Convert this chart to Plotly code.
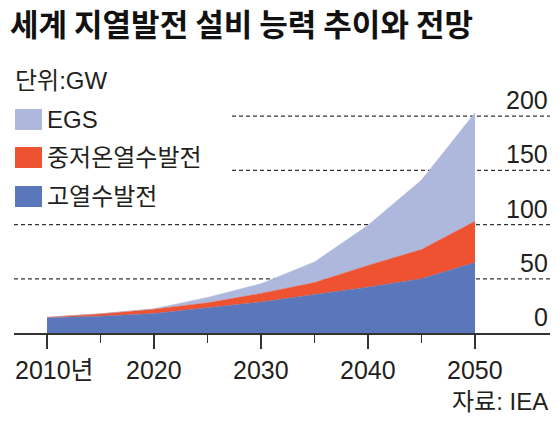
import plotly.graph_objects as go

years = [2010, 2015, 2020, 2025, 2030, 2035, 2040, 2045, 2050]
high_temp = [14, 15.5, 18, 23, 28.5, 35.5, 42.3, 50, 65]      # 고열수발전
mid_low_temp = [0.5, 2.2, 4, 4.8, 8, 11, 20, 27, 38]          # 중저온열수발전
egs = [0, 0, 0.3, 5, 9, 19, 37, 64, 100]                       # EGS

x_tick_vals = [2010, 2020, 2030, 2040, 2050]
x_tick_text = ["2010년", "2020", "2030", "2040", "2050"]
x_minor_vals = [2015, 2025, 2035, 2045]
y_tick_vals = [0, 50, 100, 150, 200]

series = [
    ("고열수발전", high_temp, "#5b77bb"),
    ("중저온열수발전", mid_low_temp, "#ee5231"),
    ("EGS", egs, "#adb8dc"),
]

W, H = 559, 422
ML, MR, MT, MB = 14, 9, 105, 89
PW, PH = W - ML - MR, H - MT - MB
Y_MAX = PH / 1.0845

def px(xp):
    return (xp - ML) / PW

def py(yp):
    return (H - MB - yp) / PH

FONT = "Liberation Sans, Noto Sans CJK KR, sans-serif"
TXT = "#231f20"

fig = go.Figure()
for name, vals, col in series:
    fig.add_trace(go.Scatter(
        x=years, y=vals, name=name, mode="lines", stackgroup="one",
        line=dict(width=0.5, color=col), fillcolor=col, showlegend=False,
        hoverinfo="skip",
    ))

shapes = []
annotations = []
# grid lines
for v in [200, 150, 100, 50]:
    x0 = px(232) if v >= 150 else 0
    shapes.append(dict(type="line", xref="paper", yref="y", x0=x0, x1=1, y0=v, y1=v,
                       line=dict(color="#333333", width=1.3, dash="4px,3px"), layer="below"))
# y tick labels
for v in y_tick_vals:
    annotations.append(dict(xref="paper", yref="y", x=1, y=v, xanchor="right", yanchor="middle",
                            yshift=16, text=str(v), showarrow=False,
                            font=dict(family=FONT, size=25, color=TXT)))
# x tick labels
for v, t in zip(x_tick_vals, x_tick_text):
    if t.endswith("년"):
        ann = dict(xanchor="left", xshift=-34)
    else:
        ann = dict(xanchor="center")
    annotations.append(dict(xref="x", yref="paper", x=v, y=0, yanchor="middle", yshift=-36.5,
                            text=t, showarrow=False,
                            font=dict(family=FONT, size=25, color=TXT), **ann))

# title
annotations.append(dict(xref="paper", yref="paper", x=px(8), y=py(22.5), xanchor="left",
                        yanchor="middle", text="<b>세계 지열발전 설비 능력 추이와 전망</b>",
                        showarrow=False,
                        font=dict(family="Noto Sans CJK KR, sans-serif", size=31, color="#111111")))
# unit
annotations.append(dict(xref="paper", yref="paper", x=px(13), y=py(80), xanchor="left",
                        yanchor="middle", text="단위:GW", showarrow=False,
                        font=dict(family=FONT, size=24, color=TXT)))
# custom legend
legend_rows = [("EGS", "#adb8dc", 109), ("중저온열수발전", "#ee5231", 147), ("고열수발전", "#5b77bb", 186)]
for name, col, top in legend_rows:
    shapes.append(dict(type="rect", xref="paper", yref="paper", x0=px(15), x1=px(42),
                       y0=py(top + 21), y1=py(top), fillcolor=col, line=dict(width=0)))
    annotations.append(dict(xref="paper", yref="paper", x=px(45), y=py(top + 10.5),
                            xanchor="left", yanchor="middle", text=name, showarrow=False,
                            font=dict(family=FONT, size=24, color=TXT)))
# source
annotations.append(dict(xref="paper", yref="paper", x=1, y=py(401), xanchor="right",
                        yanchor="middle", text="자료: IEA", showarrow=False,
                        font=dict(family=FONT, size=24, color=TXT)))

x_left = 2010 - (47 - ML) / 10.7
x_right = 2050 + (ML + PW - 475) / 10.7

fig.update_layout(
    width=W, height=H, margin=dict(l=ML, r=MR, t=MT, b=MB),
    paper_bgcolor="white", plot_bgcolor="white",
    shapes=shapes, annotations=annotations, showlegend=False,
    xaxis=dict(range=[x_left, x_right], showgrid=False, zeroline=False,
               showline=True, linecolor="#333333", linewidth=1.5,
               tickmode="array", tickvals=x_tick_vals, showticklabels=False,
               ticks="outside", ticklen=14, tickwidth=1.3, tickcolor="#333333",
               minor=dict(tickmode="array", tickvals=x_minor_vals, ticks="outside",
                          ticklen=8, tickwidth=1.3, tickcolor="#333333")),
    yaxis=dict(range=[0, Y_MAX], visible=False, fixedrange=True),
)

fig.write_html("out.html", config={"displayModeBar": False, "staticPlot": True},
               post_script="document.body.style.margin='0px';document.body.style.overflow='hidden';")
